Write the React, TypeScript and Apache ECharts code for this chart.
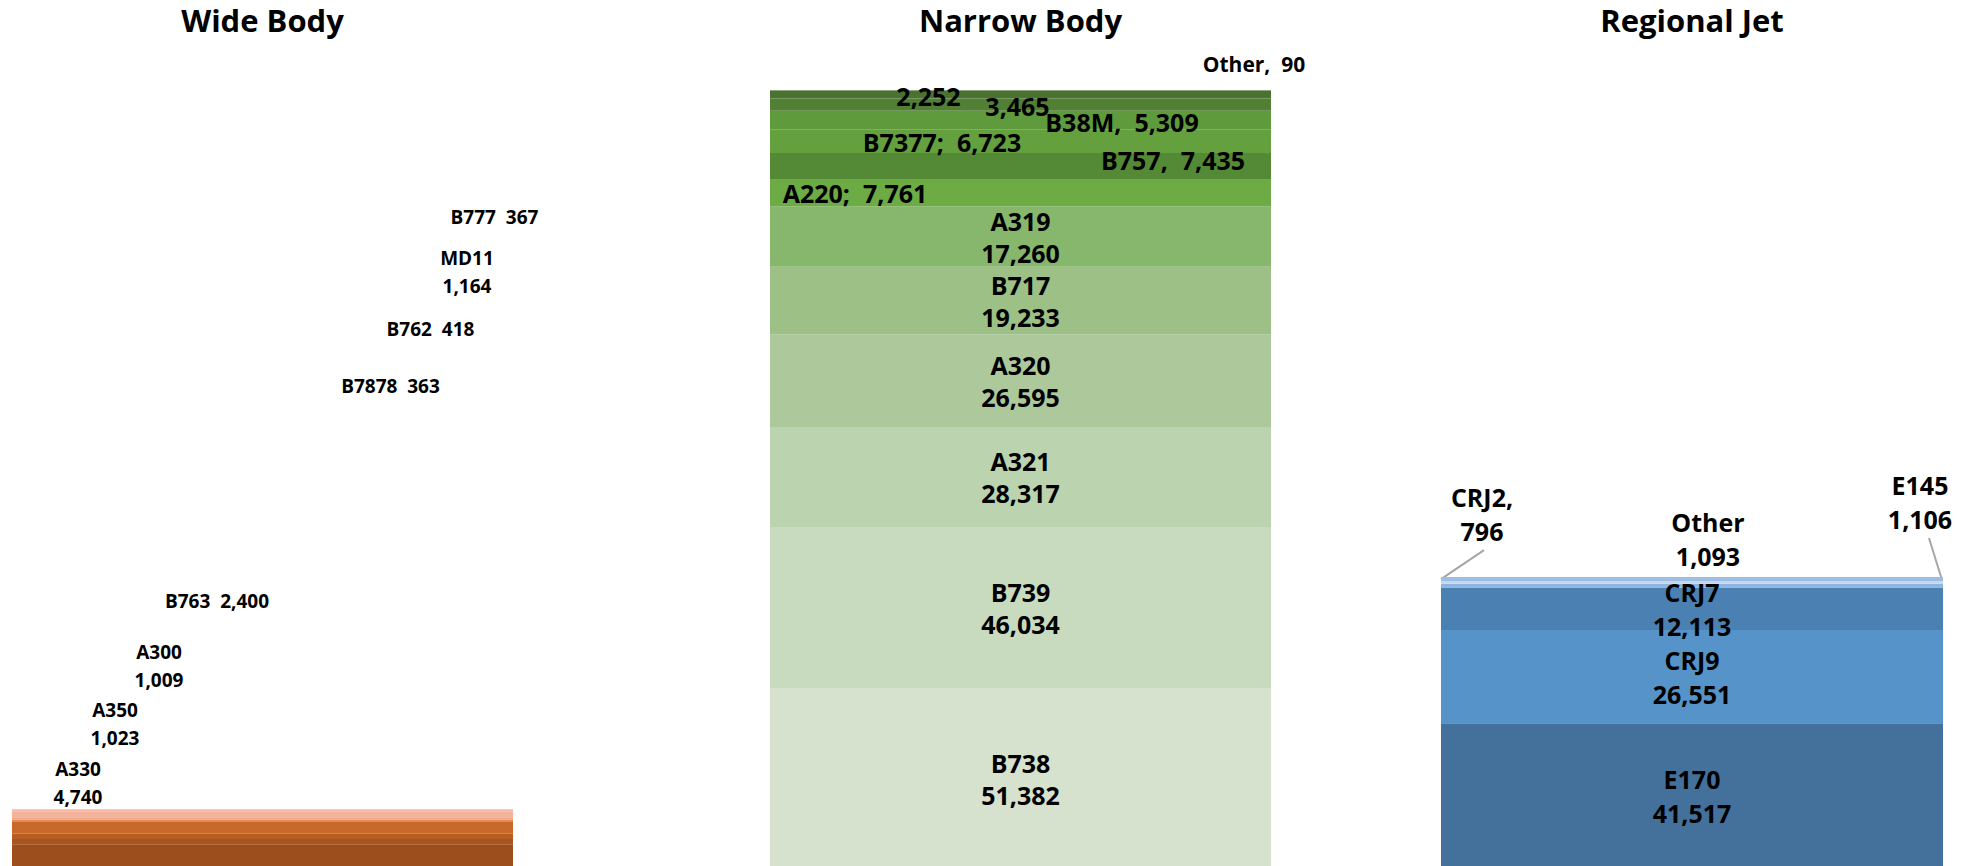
import React, { useEffect, useRef } from "react";
import * as echarts from "echarts";

// ---- data ----
const categories = ["Wide Body", "Narrow Body", "Regional Jet"];

const wideTypes = ["A330", "A350", "A300", "B763", "B7878", "B762", "MD11", "B777"];
const wideCounts = [4740, 1023, 1009, 2400, 363, 418, 1164, 367];

const narrowTypes = ["B738", "B739", "A321", "A320", "B717", "A319", "A220", "B757", "B7377", "B38M", "Unnamed 1", "Unnamed 2", "Other"];
const narrowCounts = [51382, 46034, 28317, 26595, 19233, 17260, 7761, 7435, 6723, 5309, 3465, 2252, 90];

const regionalTypes = ["E170", "CRJ9", "CRJ7", "E145", "CRJ2", "Other"];
const regionalCounts = [41517, 26551, 12113, 1106, 796, 1093];

// ---- styles / layout ----
const wideColors = ["#9C4F1C", "#A9551F", "#B75E23", "#C8692A", "#E38A5A", "#EFA585", "#F3B29C", "#F4B7A2"];
const narrowColors = ["#D6E2CD", "#C8DBBF", "#BBD3AE", "#ADC99C", "#9CC086", "#87B76D", "#6DAB45", "#548A36", "#64A13E", "#5F9A3C", "#517F34", "#4A7231", "#43662B"];
const regionalColors = ["#43719C", "#5593C9", "#4B80B2", "#8EB4E0", "#C6D6EC", "#9DBDE3"];

// label formats: "stack" = name \n value, "sp" = name  value, "comma" = name,  value, "semi" = name;  value, "val" = value only
const wideFormats = ["stack", "stack", "stack", "sp", "sp", "sp", "stack", "sp"];
const wideOffsets = [[-184.5, -73.7], [-147.5, -117.2], [-103.5, -170.4], [-45.5, -226.5], [128, -434.4], [168, -489.3], [204.5, -542.7], [232, -593.7]];

const narrowFormats = ["stack", "stack", "stack", "stack", "stack", "stack", "semi", "comma", "semi", "comma", "val", "val", "comma"];
const narrowOffsets = [[0, 0], [0, 0], [0, 0], [0, 0], [0, 0], [0, 0], [-165.5, 0], [152.5, -6], [-78.5, 1], [101.5, 2], [-3, 1.4], [-92, 1.4], [233.5, -26.5]];
const narrowSizes = [25, 25, 25, 25, 25, 25, 25, 25, 25, 25, 25, 25, 21];

const regionalFormats = ["stack", "stack", "stack", "stack", "commaStack", "stack"];
const regionalOffsets = [[0, 0], [0, 0], [0, 0], [228, -83.7], [-210, -67.8], [16, -39.5]];

const FONT = "'Open Sans', 'Noto Sans', sans-serif";
const fmtNum = (v: number) => v.toLocaleString("en-US");

function fmtLabel(kind: string, name: string, v: number) {
  const n = fmtNum(v);
  switch (kind) {
    case "stack": return `${name}\n${n}`;
    case "commaStack": return `${name},\n${n}`;
    case "sp": return `${name}  ${n}`;
    case "comma": return `${name},  ${n}`;
    case "semi": return `${name};  ${n}`;
    default: return n;
  }
}

function buildSeries(idx: number, stack: string, types: string[], counts: number[], colors: string[], formats: string[], offsets: number[][], sizes: number[], lineHeight: number) {
  return types.map((t, i) => ({
    type: "bar",
    name: t,
    xAxisIndex: idx,
    yAxisIndex: idx,
    stack,
    barWidth: "100%",
    silent: true,
    data: [counts[i]],
    itemStyle: { color: colors[i] },
    label: {
      show: true,
      position: "inside",
      offset: offsets[i],
      formatter: fmtLabel(formats[i], t, counts[i]),
      color: "#000",
      fontFamily: FONT,
      fontWeight: "bold",
      fontSize: sizes[i],
      lineHeight,
    },
  }));
}

export default function App() {
  const ref = useRef<HTMLDivElement>(null);
  useEffect(() => {
    if (!ref.current) return;
    const chart = echarts.init(ref.current, null, { renderer: "svg" });
    const grids = [
      { left: 12, width: 501, top: 37.2, bottom: 0 },
      { left: 770, width: 501, top: 26.6, bottom: 0 },
      { left: 1441, width: 502, top: 26.6, bottom: 0 },
    ];
    const maxes = [160000, 240000, 240000];
    const option: any = {
      animation: false,
      textStyle: { fontFamily: FONT },
      title: categories.map((c, i) => ({
        text: c,
        left: grids[i].left + grids[i].width / 2,
        textAlign: "center",
        top: 4,
        padding: 0,
        textStyle: { fontFamily: FONT, fontWeight: "bold", fontSize: 31, color: "#000" },
      })),
      grid: grids,
      xAxis: categories.map((c, i) => ({ type: "category", gridIndex: i, data: [c], show: false })),
      yAxis: maxes.map((m, i) => ({ type: "value", gridIndex: i, min: 0, max: m, show: false, splitLine: { show: false } })),
      series: [
        ...buildSeries(0, "wide", wideTypes, wideCounts, wideColors, wideFormats, wideOffsets, wideTypes.map(() => 19), 28),
        ...buildSeries(1, "narrow", narrowTypes, narrowCounts, narrowColors, narrowFormats, narrowOffsets, narrowSizes, 32),
        ...buildSeries(2, "regional", regionalTypes, regionalCounts, regionalColors, regionalFormats, regionalOffsets, regionalTypes.map(() => 25), 34),
      ],
    };
    chart.setOption(option);

    // leader lines for the tiny regional segments, anchored to the stack's top corners
    const regTotal = regionalCounts.reduce((a, b) => a + b, 0);
    const p = chart.convertToPixel({ gridIndex: 2 } as any, [categories[2], regTotal]) as number[];
    if (p && isFinite(p[0])) {
      const half = grids[2].width / 2;
      const leftX = p[0] - half;
      const rightX = p[0] + half;
      chart.setOption({
        graphic: [
          { type: "line", silent: true, shape: { x1: leftX, y1: p[1] + 2, x2: leftX + 43, y2: p[1] - 27 }, style: { stroke: "#A6A6A6", lineWidth: 2 } },
          { type: "line", silent: true, shape: { x1: rightX - 1, y1: p[1] + 3, x2: rightX - 14, y2: p[1] - 39 }, style: { stroke: "#A6A6A6", lineWidth: 2 } },
        ],
      });
    }
    return () => chart.dispose();
  }, []);
  return (
    <div
      ref={ref}
      style={{ position: "fixed", left: 0, top: 0, width: 1977, height: 869, background: "#fff" }}
    />
  );
}
